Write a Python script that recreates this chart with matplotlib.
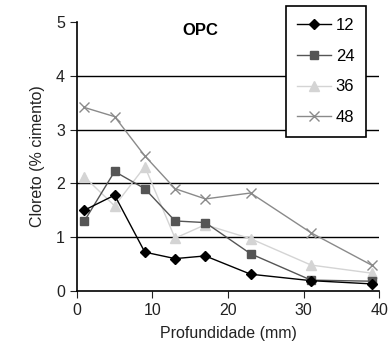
import matplotlib
matplotlib.use("Agg")
import matplotlib.pyplot as plt

# profundidade (mm)
prof = [1, 5, 9, 13, 17, 23, 31, 39]

# cloreto (% cimento) para cada idade
cl_12 = [1.50, 1.78, 0.72, 0.60, 0.65, 0.31, 0.19, 0.13]
cl_24 = [1.30, 2.22, 1.90, 1.30, 1.27, 0.69, 0.20, 0.18]
cl_36 = [2.12, 1.58, 2.31, 0.98, 1.23, 0.97, 0.48, 0.33]
cl_48 = [3.41, 3.24, 2.51, 1.90, 1.71, 1.82, 1.08, 0.48]

series_labels = ['12', '24', '36', '48']

plt.rcParams['font.family'] = ['Liberation Sans', 'DejaVu Sans']

fig = plt.figure(figsize=(3.92, 3.6), dpi=100)
ax = fig.add_axes([0.196, 0.192, 0.771, 0.747])

ax.plot(prof, cl_12, color='black', marker='D', markersize=5.5, linewidth=1.0, label=series_labels[0], zorder=5)
ax.plot(prof, cl_24, color='#555555', marker='s', markersize=6, linewidth=1.0, label=series_labels[1], zorder=4)
ax.plot(prof, cl_36, color='#d4d4d4', marker='^', markersize=6.5, linewidth=1.0, label=series_labels[2], zorder=3)
ax.plot(prof, cl_48, color='#8a8a8a', marker='x', markersize=7, linewidth=1.0, label=series_labels[3], zorder=3)

for y in [1, 2, 3, 4]:
    ax.axhline(y, color='black', linewidth=1.0, zorder=1)

ax.set_xlim(0, 40)
ax.set_ylim(0, 5)
ax.set_xticks([0, 10, 20, 30, 40])
ax.set_yticks([0, 1, 2, 3, 4, 5])
ax.tick_params(labelsize=11.5, colors='#222222', length=5, direction='out')
ax.spines['top'].set_visible(False)
ax.spines['right'].set_visible(False)
ax.spines['left'].set_linewidth(1.2)
ax.spines['bottom'].set_linewidth(1.2)
ax.set_xlabel('Profundidade (mm)', fontsize=11.5, color='#222222', labelpad=6)
ax.set_ylabel('Cloreto (% cimento)', fontsize=11.5, color='#222222', labelpad=8)
ax.text(0.41, 0.97, 'OPC', transform=ax.transAxes, fontsize=12, fontweight='bold', ha='center', va='center')

leg = ax.legend(loc='upper right', bbox_to_anchor=(0.957, 1.059), borderaxespad=0, fontsize=12,
                frameon=True, fancybox=False, edgecolor='black', framealpha=1, handlelength=2.0,
                labelspacing=0.95, borderpad=0.7, handletextpad=0.3)
leg.get_frame().set_linewidth(1.2)
leg.set_zorder(10)

fig.savefig('out.png', dpi=100)
